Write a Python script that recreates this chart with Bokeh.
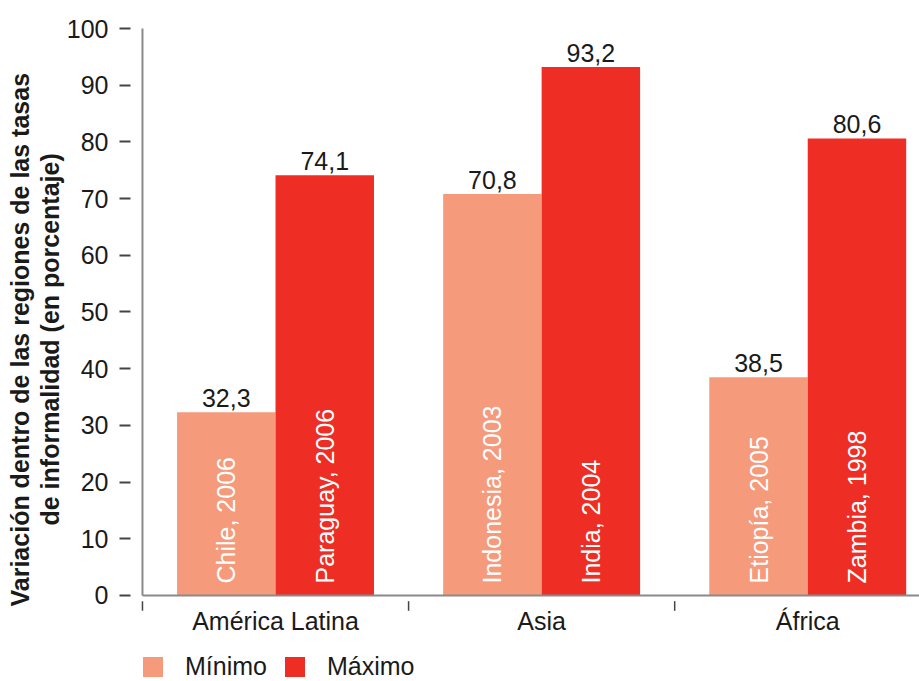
from bokeh.plotting import figure
from bokeh.models import ColumnDataSource, Range1d, FixedTicker, Legend, LegendItem, Title
from bokeh.transform import dodge
from bokeh.core.properties import value
from bokeh.embed import file_html
from bokeh.resources import INLINE

regions = ["América Latina", "Asia", "África"]
min_vals = [32.3, 70.8, 38.5]
max_vals = [74.1, 93.2, 80.6]
min_countries = ["Chile, 2006", "Indonesia, 2003", "Etiopía, 2005"]
max_countries = ["Paraguay, 2006", "India, 2004", "Zambia, 1998"]
y_ticks = [0, 10, 20, 30, 40, 50, 60, 70, 80, 90, 100]
y_title_1 = "Variación dentro de las regiones de las tasas"
y_title_2 = "de informalidad (en porcentaje)"

def fmt(v):
    return f"{v:.1f}".replace(".", ",")

idx = list(range(len(regions)))
src = ColumnDataSource(dict(
    idx=idx, region=regions, mn=min_vals, mx=max_vals,
    mn_lab=[fmt(v) for v in min_vals], mx_lab=[fmt(v) for v in max_vals],
    mn_c=min_countries, mx_c=max_countries,
    zero=[0] * len(regions),
    sep=[i - 0.5 for i in idx],
))

FONT = "Liberation Sans"
C_MIN = "#F59A7B"
C_MAX = "#EE2D24"
TXT = "#1a1a1a"
FS = "25px"

x_end = 2.42
p = figure(frame_width=789, frame_height=656, output_backend="svg", toolbar_location=None,
           x_range=Range1d(-0.545, x_end), y_range=Range1d(-15.17, 100.53),
           min_border_left=130, min_border_top=25, min_border_right=0, min_border_bottom=0)
p.grid.visible = False
p.outline_line_color = None
p.background_fill_color = "white"
p.xaxis.visible = False

W = 0.37
r_min = p.vbar(x=dodge("idx", -W / 2, range=p.x_range), top="mn", width=W, source=src,
               fill_color=C_MIN, line_color=None)
r_max = p.vbar(x=dodge("idx", W / 2, range=p.x_range), top="mx", width=W, source=src,
               fill_color=C_MAX, line_color=None)

# axis lines
p.segment(x0=[-0.5], y0=[0], x1=[x_end], y1=[0], line_color="#8a8a8a", line_width=2)
p.segment(x0=[-0.5], y0=[0], x1=[-0.5], y1=[100], line_color="#8a8a8a", line_width=2)

# category separator ticks and region labels (x axis)
p.segment(x0="sep", y0=-1.0, x1="sep", y1=-2.7, source=src, line_color="#444444", line_width=1.5)
p.text(x="idx", y="zero", text="region", source=src, text_align="center",
       text_baseline="middle", y_offset=26,
       text_font=value(FONT), text_font_size=FS, text_color=TXT)

# value labels
for col, lab, off in (("mn", "mn_lab", -W / 2), ("mx", "mx_lab", W / 2)):
    p.text(x=dodge("idx", off, range=p.x_range), y=col, text=lab, source=src,
           text_align="center", text_baseline="bottom", y_offset=-5,
           text_font=value(FONT), text_font_size=FS, text_color=TXT)

# in-bar country labels
for lab, off in (("mn_c", -W / 2), ("mx_c", W / 2)):
    p.text(x=dodge("idx", off, range=p.x_range), y="zero", text=lab, source=src,
           angle=1.5708, text_align="left", text_baseline="middle", y_offset=-12,
           text_font=value(FONT), text_font_size=FS, text_color="white")

# y axis
ya = p.yaxis[0]
ya.ticker = FixedTicker(ticks=y_ticks)
ya.axis_line_color = None
ya.major_tick_out = 11
ya.major_tick_in = 0
ya.major_tick_line_color = "#444444"
ya.major_tick_line_width = 2
ya.minor_tick_line_color = None
ya.major_label_standoff = 11
ya.major_label_text_font = FONT
ya.major_label_text_font_size = FS
ya.major_label_text_color = TXT

for txt, off in ((y_title_2, 156), (y_title_1, 75)):
    p.add_layout(Title(text=txt, align="left", offset=off, standoff=0,
                       text_font=FONT, text_font_style="bold", text_font_size=FS,
                       text_color=TXT, text_line_height=0.9), "left")

legend = Legend(items=[LegendItem(label="Mínimo", renderers=[r_min]),
                       LegendItem(label="Máximo", renderers=[r_max])],
                orientation="horizontal", location=(10, 0),
                border_line_color=None, background_fill_alpha=0,
                glyph_width=25, glyph_height=25, label_standoff=20, spacing=15,
                padding=0, margin=0,
                label_text_font=FONT, label_text_font_size=FS, label_text_color=TXT)
p.add_layout(legend, "center")

open("out.html", "w").write(file_html(p, INLINE))
